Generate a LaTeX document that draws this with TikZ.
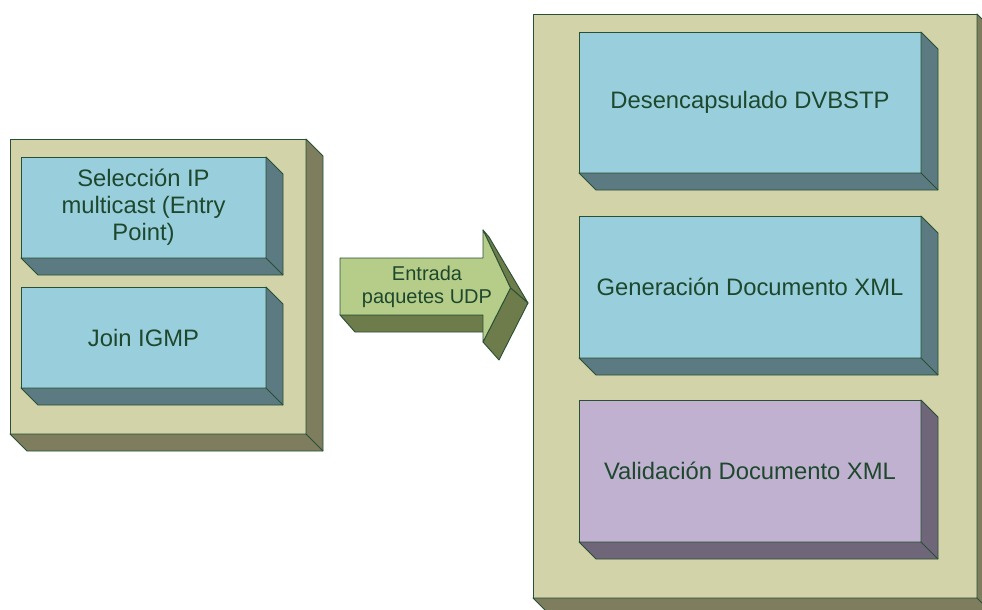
\documentclass[tikz,border=0pt]{standalone}
\usepackage{fontspec}
\setmainfont{Liberation Sans}
\usetikzlibrary{calc}

\definecolor{edge}{RGB}{40,80,52}
\definecolor{ink}{RGB}{30,72,46}
\definecolor{tanfront}{RGB}{211,211,170}
\definecolor{tanside}{RGB}{126,126,95}
\definecolor{bluefront}{RGB}{153,207,220}
\definecolor{blueside}{RGB}{91,122,130}
\definecolor{lilacfront}{RGB}{192,177,208}
\definecolor{lilacside}{RGB}{111,102,121}
\definecolor{leaffront}{RGB}{181,205,136}
\definecolor{leafside}{RGB}{110,123,75}

\tikzset{
  face/.style={draw=edge, line width=0.9pt, line join=round},
  slab/.style={face, rectangle, inner sep=0pt, outer sep=0pt, align=center,
    text=ink, font=\fontsize{23.8}{27}\selectfont},
  tanslab/.style={slab, fill=tanfront},
  blueslab/.style={slab, fill=bluefront},
  lilacslab/.style={slab, fill=lilacfront},
}

% extruded right and bottom faces of a slab node
\newcommand\slabsides[2]{%
  \filldraw[face, fill=#2] (#1.north east) -- ++(17,17)
    |- ([shift={(17,17)}]#1.south west) -- (#1.south west)
    -- (#1.south east) -- cycle;
  \draw[face] (#1.south east) -- ++(17,17);
}

\begin{document}
\begin{tikzpicture}[x=1pt, y=-1pt]
\useasboundingbox (0,0) rectangle (982,610);
\fill[white] (0,0) rectangle (982,610);
\clip (0,0) rectangle (982,610);

% left block: multicast entry
\node[tanslab, minimum width=296pt, minimum height=295pt] (left) at (158,286.5) {};
\slabsides{left}{tanside}
\node[blueslab, minimum width=245pt, minimum height=101pt] (sel) at (143.5,207.5)
  {Selección IP\\multicast (Entry\\Point)};
\slabsides{sel}{blueside}
\node[blueslab, minimum width=245pt, minimum height=101pt] (join) at (143.5,337.5)
  {Join IGMP};
\slabsides{join}{blueside}

% right block: processing chain
\node[tanslab, minimum width=444pt, minimum height=584pt] (right) at (755,306) {};
\slabsides{right}{tanside}
\node[blueslab, minimum width=342pt, minimum height=141pt] (dvb) at (750,102.5)
  {Desencapsulado DVBSTP};
\slabsides{dvb}{blueside}
\node[blueslab, minimum width=342pt, minimum height=142pt] (gen) at (750,287)
  {Generación Documento XML};
\slabsides{gen}{blueside}
\node[lilacslab, minimum width=342pt, minimum height=142pt] (val) at (750,471)
  {Validación Documento XML};
\slabsides{val}{lilacside}

% 3D arrow between the blocks
\coordinate (a1) at (340,258);
\coordinate (a2) at (483,258);
\coordinate (a3) at (483,230);
\coordinate (a4) at (510.5,288);
\coordinate (a5) at (483,342);
\coordinate (a6) at (483,315);
\coordinate (a7) at (340,315);
\coordinate (b3) at (489,237);
\coordinate (b4) at (528,303);
\coordinate (b5) at (499,360);
\coordinate (b6) at (500,332);
\coordinate (b7) at (355,332);
\filldraw[face, fill=leafside] (a7) -- (a6) -- (b6) -- (b7) -- cycle;
\filldraw[face, fill=leafside] (a3) -- (b3) -- (b4) -- (a4) -- cycle;
\filldraw[face, fill=leafside] (a4) -- (b4) -- (b5) -- (a5) -- cycle;
\filldraw[face, fill=leaffront] (a1) -- (a2) -- (a3) -- (a4) -- (a5) -- (a6) -- (a7) -- cycle;
\node[align=center, text=ink, font=\fontsize{20}{23}\selectfont] (udp) at (427,287)
  {Entrada\\paquetes UDP};
\end{tikzpicture}
\end{document}
